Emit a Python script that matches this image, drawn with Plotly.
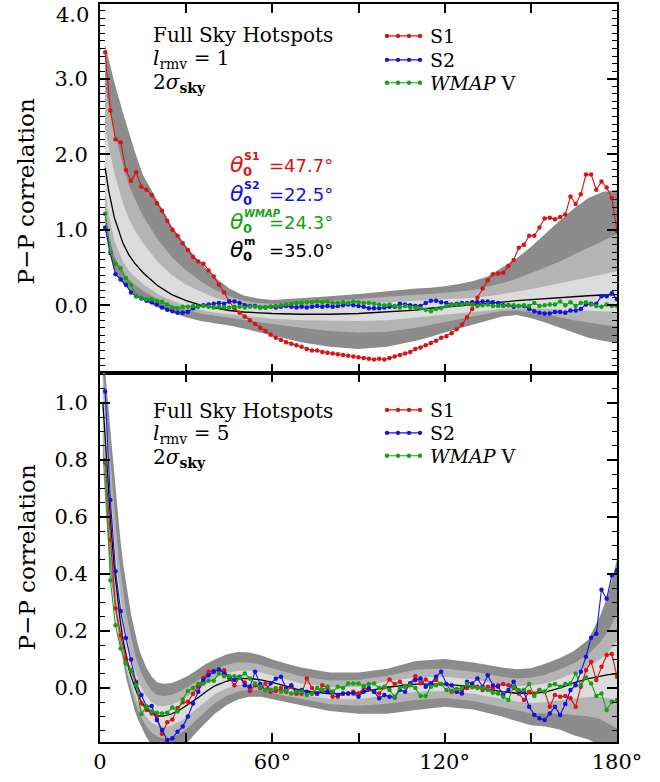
import plotly.graph_objects as go
from plotly.subplots import make_subplots

# ---------------- data ----------------
x_pts = [round(1.8 * (i + 1), 1) for i in range(100)]

s1_top = [3.35, 2.58, 2.20, 2.16, 1.79, 1.65, 1.76, 1.57, 1.53, 1.46,
          1.35, 1.25, 1.12, 1.00, 0.92, 0.82, 0.73, 0.64, 0.58, 0.55,
          0.46, 0.38, 0.27, 0.17, 0.05, -0.04, -0.10, -0.15, -0.20, -0.25,
          -0.30, -0.34, -0.39, -0.43, -0.46, -0.49, -0.51, -0.53, -0.55, -0.58,
          -0.60, -0.60, -0.62, -0.63, -0.64, -0.65, -0.66, -0.67, -0.68, -0.69,
          -0.70, -0.71, -0.72, -0.71, -0.72, -0.70, -0.68, -0.66, -0.64, -0.62,
          -0.58, -0.56, -0.53, -0.50, -0.47, -0.43, -0.41, -0.37, -0.32, -0.26,
          -0.16, -0.05, 0.10, 0.22, 0.33, 0.41, 0.42, 0.43, 0.52, 0.60,
          0.76, 0.80, 0.92, 0.92, 1.03, 1.15, 1.16, 1.14, 1.17, 1.20,
          1.44, 1.34, 1.47, 1.73, 1.73, 1.53, 1.64, 1.56, 1.42, 0.98]

s2_top = [1.03, 0.69, 0.41, 0.34, 0.27, 0.17, 0.12, 0.09, 0.06, 0.04,
          0.01, -0.03, -0.06, -0.08, -0.10, -0.10, -0.09, -0.04, -0.01, 0.00,
          0.01, 0.02, 0.03, 0.02, 0.05, 0.05, 0.03, 0.00, -0.01, -0.01,
          -0.03, -0.03, -0.02, -0.03, -0.02, -0.01, -0.02, -0.03, -0.02, -0.03,
          -0.02, -0.01, -0.02, -0.01, -0.02, -0.01, 0.00, 0.01, 0.00, -0.01,
          -0.02, -0.04, -0.04, -0.04, -0.03, -0.02, -0.02, 0.02, 0.01, 0.00,
          -0.01, -0.01, 0.03, 0.06, 0.06, 0.04, 0.03, 0.01, 0.02, 0.03,
          0.03, 0.04, 0.04, 0.05, 0.05, 0.04, 0.03, 0.00, 0.00, -0.02,
          -0.01, -0.01, -0.05, -0.08, -0.10, -0.11, -0.11, -0.09, -0.09, -0.10,
          -0.07, -0.07, -0.05, 0.01, 0.02, 0.02, 0.12, 0.12, 0.16, 0.08]

wmap_top = [1.21, 0.71, 0.55, 0.49, 0.36, 0.27, 0.12, 0.10, 0.08, 0.08,
            0.06, 0.045, 0.01, -0.03, -0.04, -0.02, -0.02, -0.01, -0.02, -0.01,
            -0.02, -0.03, -0.02, -0.03, -0.03, -0.02, -0.02, -0.03, -0.02, -0.02,
            -0.03, -0.03, -0.02, -0.01, 0.00, 0.01, 0.02, 0.03, 0.03, 0.04,
            0.04, 0.05, 0.04, 0.05, 0.03, 0.03, 0.04, 0.03, 0.05, 0.04,
            0.03, 0.03, 0.02, 0.01, 0.00, 0.01, -0.01, -0.03, -0.01, -0.03,
            -0.03, -0.04, -0.06, -0.08, -0.05, -0.04, -0.01, 0.00, 0.01, 0.01,
            0.02, 0.01, -0.01, 0.00, 0.01, -0.01, -0.01, -0.01, 0.00, 0.00,
            -0.01, 0.00, -0.01, 0.03, -0.01, 0.00, 0.01, 0.01, 0.05, 0.00,
            0.04, -0.01, 0.03, 0.04, 0.01, -0.01, -0.02, 0.01, -0.01, -0.01]

s1_bot = [0.79, 0.52, 0.28, 0.185, 0.104, 0.063, 0.022, -0.054, -0.077, -0.089,
          -0.10, -0.16, -0.12, -0.11, -0.07, -0.05, -0.048, -0.02, 0.005, 0.035,
          0.057, 0.06, 0.063, 0.063, 0.035, 0.01, 0.037, 0.02, -0.01, 0.01,
          0.0, 0.016, -0.013, -0.01, 0.0, -0.013, 0.005, -0.02, -0.02, 0.034,
          0.0, -0.02, 0.01, 0.0, -0.03, -0.03, -0.02, -0.019, -0.013, -0.019,
          0.0, -0.003, -0.013, -0.019, 0.003, 0.03, 0.014, 0.022, 0.006, 0.016,
          0.042, 0.017, 0.03, 0.016, 0.028, 0.014, 0.014, -0.013, -0.013, -0.007,
          0.0, 0.01, 0.005, -0.007, 0.005, 0.0, 0.01, 0.014, 0.01, 0.0,
          -0.019, -0.042, -0.013, -0.019, -0.007, -0.013, -0.065, -0.024, -0.03, -0.028,
          -0.036, -0.065, 0.005, 0.063, 0.092, 0.028, 0.075, 0.116, 0.12, 0.04]

s2_bot = [1.04, 0.66, 0.41, 0.27, 0.176, 0.10, 0.016, -0.024, -0.065, -0.063,
          -0.112, -0.147, -0.182, -0.176, -0.153, -0.135, -0.10, -0.054, -0.013, 0.028,
          0.045, 0.057, 0.065, 0.051, 0.040, 0.028, 0.04, 0.01, 0.005, 0.057,
          0.014, -0.007, 0.016, 0.033, 0.04, 0.0, 0.01, -0.013, -0.007, -0.013,
          -0.019, -0.019, -0.009, -0.013, -0.013, -0.024, -0.019, -0.019, -0.019, -0.03,
          -0.013, 0.0, -0.013, -0.036, -0.024, -0.03, -0.033, -0.007, -0.013, 0.016,
          0.028, 0.034, 0.005, 0.016, 0.04, 0.057, 0.014, 0.01, -0.013, -0.019,
          0.022, 0.016, 0.034, 0.005, 0.045, 0.01, 0.005, -0.024, -0.007, 0.022,
          -0.013, -0.013, -0.065, -0.094, -0.106, -0.112, -0.089, -0.065, -0.094, -0.056,
          -0.007, 0.01, 0.057, 0.11, 0.177, 0.191, 0.345, 0.313, 0.395, 0.413]

wmap_bot = [0.80, 0.378, 0.22, 0.139, 0.086, 0.063, 0.01, -0.091, -0.065, -0.082,
            -0.086, -0.089, -0.086, -0.068, -0.082, -0.04, -0.01, 0.0, 0.014, 0.016,
            0.026, 0.026, 0.051, 0.042, 0.042, 0.042, 0.037, 0.051, 0.034, 0.016,
            0.005, -0.007, -0.007, 0.0, -0.013, -0.009, -0.019, -0.013, -0.013, -0.024,
            -0.019, 0.0, -0.007, 0.005, -0.013, 0.005, 0.0, 0.016, 0.016, 0.016,
            0.007, 0.014, 0.016, 0.0, 0.005, -0.007, -0.03, 0.0, 0.005, 0.01,
            0.0, -0.028, -0.028, 0.005, 0.01, 0.014, -0.007, -0.009, -0.003, 0.0,
            0.014, 0.003, 0.0, 0.0, -0.007, -0.016, -0.019, -0.03, -0.042, 0.005,
            -0.007, -0.007, 0.014, -0.028, -0.007, -0.013, 0.01, 0.014, 0.005, 0.014,
            0.016, 0.051, 0.01, 0.037, 0.016, -0.028, -0.019, -0.077, -0.048, -0.042]

# simulation bands (top panel, l_rmv = 1)
xt = [1.8, 3, 5, 8, 10, 12, 15, 20, 25, 30, 35, 40, 45, 50, 55, 60, 70, 80, 90, 100,
      110, 115, 120, 125, 130, 135, 140, 145, 150, 155, 160, 165, 170, 175, 180]
mean_top = [1.82, 1.52, 1.16, 0.82, 0.67, 0.56, 0.43, 0.26, 0.14, 0.06, 0.0, -0.04, -0.07, -0.09, -0.10,
            -0.11, -0.12, -0.12, -0.11, -0.09, -0.065, -0.04, -0.025, -0.01, 0.005, 0.02, 0.04, 0.06,
            0.075, 0.09, 0.105, 0.115, 0.125, 0.135, 0.14]
o_up_top = [3.45, 3.25, 2.95, 2.55, 2.3, 2.05, 1.72, 1.38, 1.05, 0.78, 0.56, 0.37, 0.22, 0.13, 0.09,
            0.07, 0.09, 0.12, 0.15, 0.19, 0.22, 0.23, 0.25, 0.28, 0.32, 0.38, 0.5, 0.62, 0.77, 0.95,
            1.12, 1.28, 1.42, 1.5, 1.53]
m_up_top = [2.9, 2.65, 2.3, 1.85, 1.6, 1.42, 1.18, 0.88, 0.64, 0.46, 0.32, 0.2, 0.12, 0.06, 0.03,
            0.02, 0.03, 0.06, 0.09, 0.12, 0.14, 0.15, 0.16, 0.18, 0.2, 0.24, 0.29, 0.35, 0.42, 0.5,
            0.58, 0.67, 0.76, 0.86, 0.94]
i_up_top = [2.35, 2.1, 1.75, 1.35, 1.15, 1.0, 0.82, 0.58, 0.4, 0.27, 0.18, 0.1, 0.05, 0.01, -0.01,
            -0.02, -0.02, 0.0, 0.02, 0.04, 0.06, 0.07, 0.08, 0.09, 0.1, 0.12, 0.15, 0.18, 0.21, 0.25,
            0.29, 0.33, 0.37, 0.41, 0.45]
i_lo_top = [1.5, 1.2, 0.85, 0.58, 0.46, 0.38, 0.28, 0.15, 0.06, -0.01, -0.06, -0.1, -0.13, -0.15, -0.16,
            -0.18, -0.2, -0.21, -0.21, -0.2, -0.17, -0.15, -0.13, -0.11, -0.09, -0.07, -0.05, -0.04,
            -0.04, -0.04, -0.05, -0.06, -0.07, -0.08, -0.09]
m_lo_top = [1.25, 0.95, 0.65, 0.42, 0.34, 0.27, 0.19, 0.08, 0.0, -0.06, -0.11, -0.14, -0.17, -0.2, -0.22,
            -0.25, -0.3, -0.34, -0.36, -0.35, -0.3, -0.27, -0.23, -0.19, -0.15, -0.11, -0.08, -0.07,
            -0.09, -0.12, -0.16, -0.2, -0.23, -0.26, -0.28]
o_lo_top = [1.0, 0.72, 0.45, 0.28, 0.21, 0.15, 0.07, -0.03, -0.1, -0.16, -0.21, -0.24, -0.27, -0.31, -0.35,
            -0.4, -0.49, -0.55, -0.58, -0.55, -0.47, -0.42, -0.36, -0.3, -0.25, -0.2, -0.15, -0.13,
            -0.17, -0.23, -0.3, -0.36, -0.43, -0.47, -0.5]

# simulation bands (bottom panel, l_rmv = 5)
xb = [1, 2, 3, 4, 5, 6, 7, 8, 9, 10, 11, 12, 13, 14, 16, 18, 20, 22, 25, 28, 31, 34, 37, 40,
      44, 48, 52, 56, 60, 65, 70, 80, 90, 100, 110, 120, 130, 140, 145, 150, 155, 160, 165,
      170, 174, 177, 180]
mean_bot = [1.0, 0.84, 0.68, 0.54, 0.42, 0.32, 0.24, 0.17, 0.115, 0.07, 0.035, 0.005, -0.02, -0.04,
            -0.07, -0.088, -0.097, -0.098, -0.09, -0.075, -0.056, -0.035, -0.012, 0.008, 0.024, 0.033,
            0.034, 0.029, 0.02, 0.006, -0.008, -0.02, -0.017, 0.003, 0.014, 0.014, 0.004, -0.012,
            -0.018, -0.019, -0.014, 0.0, 0.018, 0.033, 0.042, 0.047, 0.05]
o_up_bot = [1.2, 1.1, 0.98, 0.86, 0.74, 0.63, 0.53, 0.44, 0.37, 0.31, 0.25, 0.2, 0.16, 0.125, 0.075,
            0.04, 0.02, 0.015, 0.018, 0.03, 0.045, 0.065, 0.085, 0.1, 0.118, 0.127, 0.125, 0.115, 0.1,
            0.085, 0.072, 0.055, 0.055, 0.068, 0.095, 0.102, 0.09, 0.072, 0.066, 0.07, 0.085, 0.105,
            0.13, 0.17, 0.25, 0.33, 0.45]
m_up_bot = [1.124, 1.001, 0.866, 0.738, 0.618, 0.512, 0.42, 0.337, 0.273, 0.219, 0.168, 0.126, 0.092,
            0.062, 0.02, -0.009, -0.024, -0.028, -0.023, -0.01, 0.007, 0.027, 0.048, 0.065, 0.082,
            0.091, 0.09, 0.082, 0.07, 0.055, 0.042, 0.027, 0.028, 0.043, 0.064, 0.069, 0.057, 0.04,
            0.034, 0.036, 0.047, 0.065, 0.087, 0.118, 0.16, 0.2, 0.26]
i_up_bot = [1.06, 0.918, 0.77, 0.636, 0.516, 0.413, 0.327, 0.251, 0.192, 0.142, 0.1, 0.064, 0.034,
            0.01, -0.027, -0.05, -0.062, -0.064, -0.058, -0.044, -0.026, -0.005, 0.017, 0.036, 0.052,
            0.061, 0.061, 0.055, 0.044, 0.03, 0.016, 0.003, 0.005, 0.023, 0.038, 0.04, 0.03, 0.013,
            0.007, 0.008, 0.016, 0.032, 0.052, 0.074, 0.1, 0.125, 0.165]
i_lo_bot = [0.94, 0.774, 0.62, 0.489, 0.384, 0.29, 0.213, 0.146, 0.093, 0.049, 0.013, -0.019, -0.046,
            -0.067, -0.1, -0.122, -0.132, -0.136, -0.131, -0.116, -0.095, -0.07, -0.044, -0.021,
            -0.001, 0.011, 0.015, 0.011, 0.003, -0.011, -0.024, -0.038, -0.039, -0.025, -0.013, -0.01,
            -0.02, -0.038, -0.047, -0.052, -0.05, -0.044, -0.037, -0.031, -0.031, -0.036, -0.043]
m_lo_bot = [0.876, 0.704, 0.556, 0.435, 0.346, 0.258, 0.184, 0.12, 0.069, 0.027, -0.012, -0.045, -0.073,
            -0.096, -0.132, -0.157, -0.17, -0.177, -0.174, -0.159, -0.136, -0.106, -0.079, -0.053,
            -0.028, -0.012, -0.006, -0.008, -0.016, -0.029, -0.04, -0.057, -0.062, -0.055, -0.042,
            -0.035, -0.045, -0.067, -0.078, -0.088, -0.089, -0.09, -0.095, -0.099, -0.108, -0.125, -0.142]
o_lo_bot = [0.8, 0.62, 0.48, 0.37, 0.3, 0.22, 0.15, 0.09, 0.04, 0.0, -0.04, -0.075, -0.105, -0.13,
            -0.17, -0.2, -0.215, -0.225, -0.225, -0.21, -0.185, -0.15, -0.12, -0.09, -0.06, -0.04,
            -0.03, -0.03, -0.038, -0.05, -0.06, -0.08, -0.09, -0.09, -0.077, -0.065, -0.075, -0.1,
            -0.115, -0.13, -0.135, -0.145, -0.165, -0.18, -0.2, -0.23, -0.26]

x_tickvals = [0, 30, 60, 90, 120, 150, 180]
x_ticktext = ["0", " ", "60°", " ", "120°", " ", "180°"]
series_names = ["S1", "S2", "<i>WMAP</i> V"]
theta_sup = ["S1", "S2", "<i>WMAP</i>", "m"]
theta_val = ["=47.7°", "=22.5°", "=24.3°", "=35.0°"]

RED, BLUE, GREEN, BLACK = "#d81414", "#1414d8", "#16a016", "#000000"
DARK, MID, LIGHT = "#8c8c8c", "#b4b4b4", "#dcdcdc"
SERIF = "DejaVu Serif"
SANS = "DejaVu Sans"

# ---------------- figure ----------------
fig = make_subplots(rows=2, cols=1, shared_xaxes=True, vertical_spacing=0)


def add_band(xs, up, lo, color, row):
    fig.add_trace(go.Scatter(x=list(xs) + list(xs)[::-1], y=list(up) + list(lo)[::-1],
                             fill="toself", fillcolor=color, mode="lines",
                             line=dict(width=0, color=color), hoverinfo="skip",
                             showlegend=False), row=row, col=1)


for row, xs, bands, mean, series in [
    (1, xt, [(o_up_top, o_lo_top, DARK), (m_up_top, m_lo_top, MID), (i_up_top, i_lo_top, LIGHT)],
     mean_top, [s1_top, s2_top, wmap_top]),
    (2, xb, [(o_up_bot, o_lo_bot, DARK), (m_up_bot, m_lo_bot, MID), (i_up_bot, i_lo_bot, LIGHT)],
     mean_bot, [s1_bot, s2_bot, wmap_bot]),
]:
    for up, lo, col in bands:
        add_band(xs, up, lo, col, row)
    fig.add_trace(go.Scatter(x=xs, y=mean, mode="lines", line=dict(color=BLACK, width=1.3),
                             showlegend=False, hoverinfo="skip"), row=row, col=1)
    for ys, col in zip(series, [RED, BLUE, GREEN]):
        fig.add_trace(go.Scatter(x=x_pts, y=ys, mode="lines+markers",
                                 line=dict(color=col, width=1.1),
                                 marker=dict(color=col, size=4.5),
                                 showlegend=False), row=row, col=1)

L, R, T, B = 100, 43, 2, 40
W, H = 660, 782
PW, PH = W - L - R, H - T - B


def PX(px):
    return (px - L) / PW


def PY(py):
    return (H - B - py) / PH


axis_common = dict(showline=True, linewidth=2, linecolor="black", mirror="ticks",
                   ticks="inside", tickcolor="black", showgrid=False, zeroline=False,
                   tickfont=dict(family=SERIF, size=21, color="black"))

fig.update_xaxes(range=[0, 180], tickvals=x_tickvals, ticktext=x_ticktext, ticklen=9,
                 tickwidth=1.5, **axis_common)
fig.update_xaxes(showticklabels=False, row=1, col=1)
fig.update_yaxes(range=[-0.898, 3.99], tickvals=[0, 1, 2, 3],
                 ticktext=["0.0", "1.0", "2.0", "3.0"], ticklen=10, tickwidth=1.5,
                 minor=dict(ticks="inside", dtick=0.1, tick0=0, ticklen=5, tickwidth=1.2,
                            tickcolor="black"),
                 ticklabelstandoff=6, row=1, col=1, **axis_common)
fig.update_yaxes(range=[-0.189, 1.105], tickvals=[0, 0.2, 0.4, 0.6, 0.8, 1.0],
                 ticktext=["0.0", "0.2", "0.4", "0.6", "0.8", "1.0"], ticklen=10, tickwidth=1.5,
                 minor=dict(ticks="inside", dtick=0.05, tick0=0, ticklen=5, tickwidth=1.2,
                            tickcolor="black"),
                 ticklabelstandoff=6, row=2, col=1, **axis_common)

ann = []
shapes = []

# "4.0" label at the top of the upper panel
ann.append(dict(text="4.0", x=PX(91), y=PY(13), xref="paper", yref="paper", xanchor="right",
                yanchor="middle", showarrow=False, font=dict(family=SERIF, size=21, color="black")))

# y-axis titles
for yc in (190, 557):
    ann.append(dict(text="P\u2212P correlation", x=PX(26), y=PY(yc), xref="paper", yref="paper",
                    textangle=-90, showarrow=False, xanchor="center", yanchor="middle",
                    font=dict(family=SERIF, size=23, color="black")))

# panel labels
for rows_y, lval in [((33, 57, 81), "1"), ((410, 433, 457), "5")]:
    texts = ["Full Sky Hotspots", "<i>l</i><sub>rmv</sub> = " + lval, "2<i>σ</i><sub><b>sky</b></sub>"]
    for t, yy in zip(texts, rows_y):
        ann.append(dict(text=t, x=PX(151), y=PY(yy), xref="paper", yref="paper", xanchor="left",
                        yanchor="middle", showarrow=False, font=dict(family=SERIF, size=20, color="black")))

# legends
for rows_y in [(34, 58, 81), (409, 432, 455)]:
    for name, col, yy in zip(series_names, [RED, BLUE, GREEN], rows_y):
        shapes.append(dict(type="line", xref="paper", yref="paper", x0=PX(387), x1=PX(420),
                           y0=PY(yy), y1=PY(yy), line=dict(color=col, width=1.1)))
        for dx in (387, 398, 409, 420):
            r = 2.2
            shapes.append(dict(type="circle", xref="paper", yref="paper",
                               x0=PX(dx - r), x1=PX(dx + r), y0=PY(yy + r), y1=PY(yy - r),
                               fillcolor=col, line=dict(color=col, width=0)))
        ann.append(dict(text=name, x=PX(428), y=PY(yy), xref="paper", yref="paper", xanchor="left",
                        yanchor="middle", showarrow=False, font=dict(family=SERIF, size=19, color="black")))

# theta_0 annotations
for sup, val, col, yy in zip(theta_sup, theta_val, [RED, BLUE, GREEN, BLACK], (163, 192, 220, 248)):
    ann.append(dict(text="<i>θ</i>", x=PX(228), y=PY(yy), xref="paper", yref="paper", xanchor="left",
                    yanchor="middle", showarrow=False, font=dict(family=SANS, size=22, color=col)))
    ann.append(dict(text="<b>0</b>", x=PX(241), y=PY(yy + 7), xref="paper", yref="paper",
                    xanchor="left", yanchor="middle", showarrow=False,
                    font=dict(family=SANS, size=13, color=col)))
    ann.append(dict(text="<b>" + sup + "</b>", x=PX(242), y=PY(yy - 8), xref="paper", yref="paper",
                    xanchor="left", yanchor="middle", showarrow=False,
                    font=dict(family=SANS, size=11 if sup != "<i>WMAP</i>" else 10, color=col)))
    ann.append(dict(text=val, x=PX(267), y=PY(yy + 1), xref="paper", yref="paper", xanchor="left",
                    yanchor="middle", showarrow=False, font=dict(family=SANS, size=18, color=col)))

fig.update_layout(width=W, height=H, margin=dict(l=L, r=R, t=T, b=B), plot_bgcolor="white",
                  paper_bgcolor="white", showlegend=False, annotations=ann, shapes=shapes)

fig.write_html("out.html", config={"displayModeBar": False},
               post_script="document.body.style.margin='0px';")
